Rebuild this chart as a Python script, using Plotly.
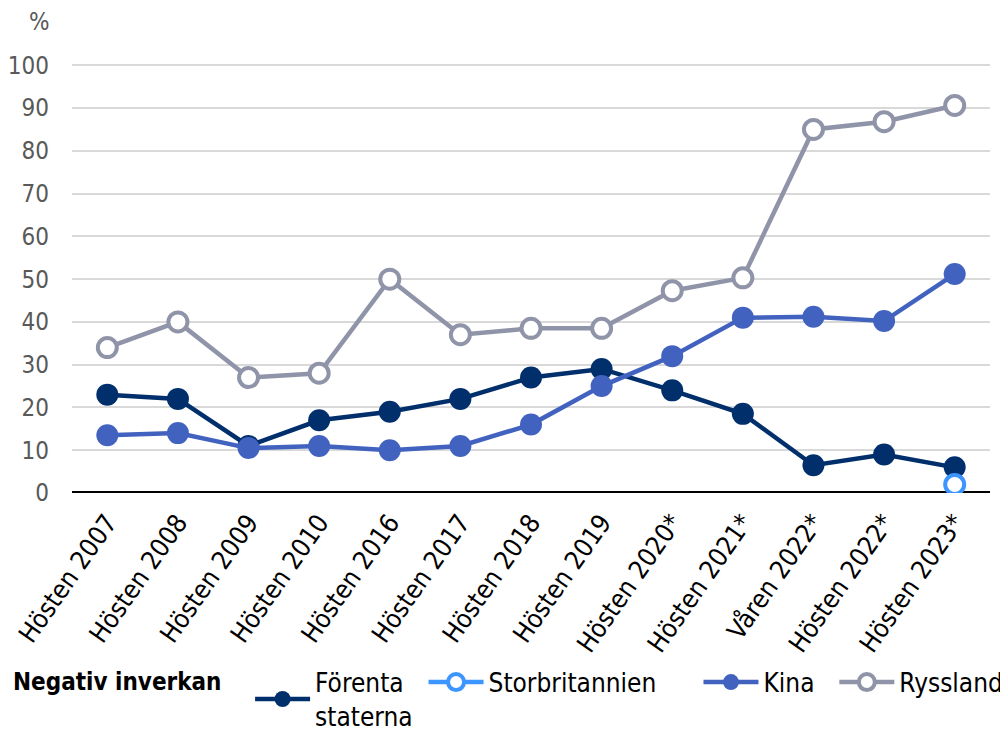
import plotly.graph_objects as go

kategorier = ["Hösten 2007", "Hösten 2008", "Hösten 2009", "Hösten 2010", "Hösten 2016",
              "Hösten 2017", "Hösten 2018", "Hösten 2019", "Hösten 2020*", "Hösten 2021*",
              "Våren 2022*", "Hösten 2022*", "Hösten 2023*"]

usa = [23, 22, 11, 17, 19, 22, 27, 29, 24, 18.5, 6.5, 9, 6]
storbritannien = [None] * 12 + [2]
kina = [13.5, 14, 10.5, 11, 10, 11, 16, 25, 32, 41, 41.2, 40.2, 51.2]
ryssland = [34, 40, 27, 28, 50, 37, 38.5, 38.5, 47.3, 50.3, 85, 86.8, 90.6]

FONT = "DejaVu Sans Condensed, Lato, sans-serif"
NB = "\u00a0"

fig = go.Figure()


def add_line(y, namn, farg, open_marker=False):
    marker = dict(size=22, color=farg)
    if open_marker:
        marker = dict(size=19, color="white", line=dict(color=farg, width=4))
    fig.add_trace(go.Scatter(x=kategorier, y=y, name=namn, mode="lines+markers",
                             line=dict(color=farg, width=4.5), marker=marker,
                             connectgaps=False))


add_line(usa, "Förenta" + NB * 2 + "<br>staterna", "#002f6c")
add_line(storbritannien, "Storbritannien" + NB * 5, "#3d95ff", open_marker=True)
add_line(kina, "Kina" + NB * 2, "#4262c0")
add_line(ryssland, "Ryssland", "#9094a8", open_marker=True)

# sidan har 8 px marginal runt diagrammet, därav 1000x723
fig.update_layout(
    width=1000, height=723,
    margin=dict(l=64, r=18, t=56, b=238, autoexpand=False),
    plot_bgcolor="white", paper_bgcolor="white",
    font=dict(family=FONT, size=26, color="#000"),
    xaxis=dict(tickangle=-55, range=[-0.5, len(kategorier) - 0.5], showgrid=False,
               showline=False, ticks="", automargin=False, ticklabelstandoff=8,
               tickfont=dict(size=26, color="#000")),
    yaxis=dict(range=[0, 100.3], dtick=10, showgrid=True, gridcolor="#d9d9d9",
               gridwidth=2, zeroline=False, showline=False, ticks="", automargin=False,
               tickfont=dict(size=24, color="#595959"), ticklabelstandoff=22),
    legend=dict(orientation="h", x=0.003, y=0.1, xanchor="left", yanchor="top",
                xref="container", yref="container", font=dict(size=26),
                title=dict(text="<b>Negativ inverkan</b>" + NB * 3, side="left",
                           font=dict(size=24)),
                itemwidth=55, tracegroupgap=0),
    showlegend=True,
)

fig.add_shape(type="line", xref="paper", yref="y", x0=0, x1=1, y0=0, y1=0,
              line=dict(color="#000", width=4), layer="below")

fig.add_annotation(text="%", xref="paper", yref="paper", x=-0.035, y=1.098,
                   xanchor="center", yanchor="middle", showarrow=False,
                   font=dict(size=24, color="#595959"))

fig.write_html("out.html")
